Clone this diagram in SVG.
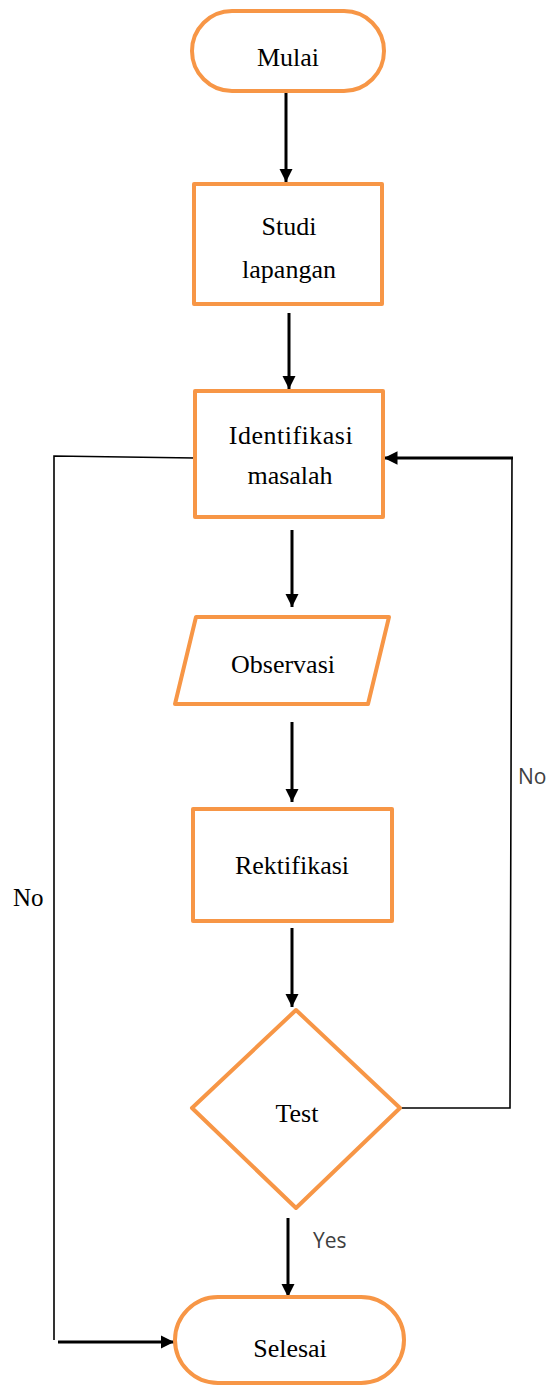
<svg xmlns="http://www.w3.org/2000/svg" width="550" height="1385" viewBox="0 0 550 1385">
<style>
.shape{fill:#fff;stroke:#F79646;stroke-width:4;stroke-linejoin:round}
.lbl{font-family:"Liberation Serif","Times New Roman",serif;font-size:26px;fill:#000;text-anchor:middle}
.thick{stroke:#000;stroke-width:3;fill:none}
.thin{stroke:#000;stroke-width:1.6;fill:none}
.side{font-family:"Open Sans","Liberation Sans",sans-serif;font-size:21px;fill:#404040}
</style>
<defs>
<marker id="ah" viewBox="0 0 10 10" refX="10" refY="5" markerWidth="4.5" markerHeight="4.5" orient="auto" markerUnits="strokeWidth">
<path d="M0,0 L10,5 L0,10 z" fill="#000"/>
</marker>
</defs>
<rect width="550" height="1385" fill="#fff"/>
<g id="connectors">
<line class="thick" x1="286" y1="93" x2="286" y2="182" marker-end="url(#ah)"/>
<line class="thick" x1="289" y1="313" x2="289" y2="389" marker-end="url(#ah)"/>
<line class="thick" x1="292" y1="530" x2="292" y2="607" marker-end="url(#ah)"/>
<line class="thick" x1="292" y1="722" x2="292" y2="802" marker-end="url(#ah)"/>
<line class="thick" x1="292" y1="928" x2="292" y2="1007" marker-end="url(#ah)"/>
<line class="thick" x1="288" y1="1218" x2="288" y2="1297" marker-end="url(#ah)"/>
<polyline class="thin" points="195,458 54,456 54,1340"/>
<line class="thick" x1="58" y1="1342" x2="174" y2="1342" marker-end="url(#ah)"/>
<polyline class="thin" points="401,1108 510,1108 512,458"/>
<line class="thick" x1="513" y1="458" x2="384" y2="458" marker-end="url(#ah)"/>
<text class="side" x="313" y="1248">Yes</text>
<text class="side" x="518" y="784">No</text>
<text x="13" y="906" font-family="'Liberation Serif','Times New Roman',serif" font-size="25" fill="#000">No</text>
</g>
<g id="mulai">
<rect class="shape" x="192" y="11" width="192" height="80" rx="40" ry="40"/>
<text class="lbl" x="288" y="66">Mulai</text>
</g>
<g id="studi">
<rect class="shape" x="194" y="184" width="188" height="120"/>
<text class="lbl" x="289" y="235">Studi</text>
<text class="lbl" x="289" y="278">lapangan</text>
</g>
<g id="identifikasi">
<rect class="shape" x="195" y="391" width="188" height="126"/>
<text class="lbl" x="291" y="444" letter-spacing="0.5">Identifikasi</text>
<text class="lbl" x="290" y="484">masalah</text>
</g>
<g id="observasi">
<polygon class="shape" points="196,617 389,617 368,704 175,704"/>
<text class="lbl" x="283" y="673">Observasi</text>
</g>
<g id="rektifikasi">
<rect class="shape" x="193" y="809" width="199" height="112"/>
<text class="lbl" x="292" y="874">Rektifikasi</text>
</g>
<g id="test">
<polygon class="shape" points="296,1010 400,1108 296,1208 192,1108"/>
<text class="lbl" x="297" y="1122">Test</text>
</g>
<g id="selesai">
<rect class="shape" x="175" y="1297" width="229" height="86" rx="43" ry="43"/>
<text class="lbl" x="290" y="1357">Selesai</text>
</g>
</svg>
